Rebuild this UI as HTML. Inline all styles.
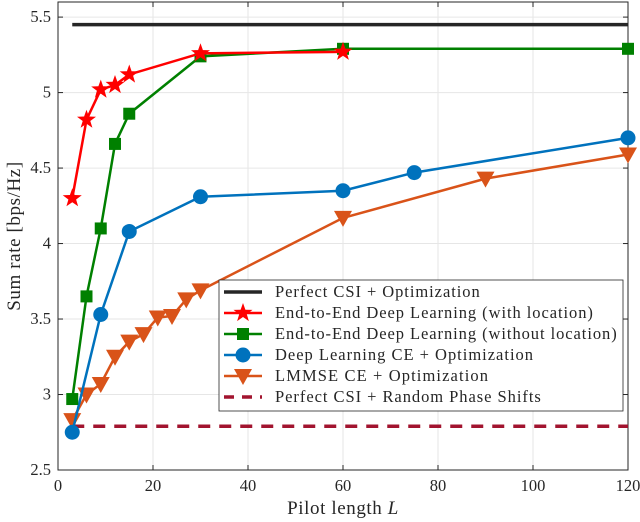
<!DOCTYPE html>
<html><head><meta charset="utf-8"><style>
body{margin:0;background:#fff;}
svg{display:block;font-family:"Liberation Serif",serif;}
</style></head><body>
<svg id="chart" width="640" height="522" xmlns="http://www.w3.org/2000/svg"></svg>
<script>
const xTicks=[0,20,40,60,80,100,120];
const yTicks=[2.5,3,3.5,4,4.5,5,5.5];
const perfectX=[3,120];const perfectY=[5.45,5.45];
const redX=[3,6,9,12,15,30,60];const redY=[4.3,4.82,5.02,5.05,5.12,5.26,5.27];
const greenX=[3,6,9,12,15,30,60,120];const greenY=[2.97,3.65,4.1,4.66,4.86,5.24,5.29,5.29];
const blueX=[3,9,15,30,60,75,120];const blueY=[2.75,3.53,4.08,4.31,4.35,4.47,4.70];
const orangeX=[3,6,9,12,15,18,21,24,27,30,60,90,120];const orangeY=[2.83,3.0,3.07,3.25,3.35,3.4,3.51,3.52,3.63,3.69,4.17,4.43,4.59];
const randX=[3,120];const randY=[2.79,2.79];
const legendLabels=["Perfect CSI + Optimization","End-to-End Deep Learning (with location)","End-to-End Deep Learning (without location)","Deep Learning CE + Optimization","LMMSE CE + Optimization","Perfect CSI + Random Phase Shifts"];

const L=58,R=628,T=2,B=470,xmin=0,xmax=120,ymin=2.5,ymax=5.6;
const sx=v=>L+(v-xmin)/(xmax-xmin)*(R-L);
const sy=v=>B-(v-ymin)/(ymax-ymin)*(B-T);
const svg=document.getElementById('chart');const NS="http://www.w3.org/2000/svg";
function mk(tag,attrs,parent){const e=document.createElementNS(NS,tag);for(const k in attrs)e.setAttribute(k,attrs[k]);(parent||svg).appendChild(e);return e;}
xTicks.forEach(t=>{const l=mk('line',{x1:sx(t),x2:sx(t),y1:T,y2:B,stroke:'#e6e6e6'});

});
yTicks.forEach(t=>{const l=mk('line',{x1:L,x2:R,y1:sy(t),y2:sy(t),stroke:'#e6e6e6'});

});
const box=mk('rect',{x:L,y:T,width:R-L,height:B-T,fill:'none',stroke:'#262626','stroke-width':1});


xTicks.forEach(t=>{mk('line',{x1:sx(t),x2:sx(t),y1:B,y2:B-5,stroke:'#262626'});mk('line',{x1:sx(t),x2:sx(t),y1:T,y2:T+5,stroke:'#262626'});
const tx=mk('text',{x:sx(t),y:B+21,'text-anchor':'middle','font-size':16.5,fill:'#262626'});tx.textContent=t;

});
yTicks.forEach(t=>{mk('line',{x1:L,x2:L+5,y1:sy(t),y2:sy(t),stroke:'#262626'});mk('line',{x1:R,x2:R-5,y1:sy(t),y2:sy(t),stroke:'#262626'});
const tx=mk('text',{x:L-7,y:sy(t)+5,'text-anchor':'end','font-size':16.5,fill:'#262626'});tx.textContent=t;

});
const xt=mk('text',{x:(L+R)/2,y:514,'text-anchor':'middle','font-size':19,fill:'#262626','letter-spacing':'0.6'});xt.innerHTML='Pilot length <tspan font-style="italic">L</tspan>';


const yt=mk('text',{x:0,y:0,'text-anchor':'middle','font-size':19,fill:'#262626','letter-spacing':'0.6',transform:`translate(20,${(T+B)/2}) rotate(-90)`});yt.textContent='Sum rate [bps/Hz]';



function marker(g,type,x,y,color){
 if(type==='star'){let p=[];for(let i=0;i<10;i++){const r=i%2?4:10,a=-Math.PI/2+i*Math.PI/5;p.push((x+r*Math.cos(a)).toFixed(1)+','+(y+r*Math.sin(a)).toFixed(1));}
  return mk('polygon',{points:p.join(' '),fill:color},g);}
 if(type==='square')return mk('rect',{x:x-6,y:y-6,width:12,height:12,fill:color},g);
 if(type==='circle')return mk('circle',{cx:x,cy:y,r:7.5,fill:color},g);
 if(type==='tri')return mk('polygon',{points:`${x-9},${y-7} ${x+9},${y-7} ${x},${y+9}`,fill:color},g);
}
const series=[
 {name:'perfect-csi-series',X:perfectX,Y:perfectY,c:'#262626',m:null,w:3.5},
 {name:'e2e-with-location-series',X:redX,Y:redY,c:'#ff0000',m:'star',w:2.5},
 {name:'e2e-without-location-series',X:greenX,Y:greenY,c:'#008000',m:'square',w:2.5},
 {name:'dl-ce-series',X:blueX,Y:blueY,c:'#0072bd',m:'circle',w:2.5},
 {name:'lmmse-series',X:orangeX,Y:orangeY,c:'#d95319',m:'tri',w:2.5},
 {name:'random-phase-series',X:randX,Y:randY,c:'#a2142f',m:null,w:3.5,dash:'12 9'}
];
const order=[0,5,4,3,2,1];
order.forEach(i=>{const s=series[i];const g=mk('g',{});


 const pl=mk('polyline',{points:s.X.map((x,j)=>sx(x)+','+sy(s.Y[j])).join(' '),fill:'none',stroke:s.c,'stroke-width':s.w},g);
 if(s.dash)pl.setAttribute('stroke-dasharray',s.dash);
 if(s.m)s.X.forEach((x,j)=>{const m=marker(g,s.m,sx(x),sy(s.Y[j]),s.c);

});
});
const lg=mk('g',{});


mk('rect',{x:219,y:280,width:404,height:131,fill:'#fff',stroke:'#262626','stroke-width':0.8},lg);
legendLabels.forEach((lab,i)=>{const s=series[i];const y=292+i*21;const e=mk('g',{},lg);


 const l=mk('line',{x1:224,x2:262,y1:y,y2:y,stroke:s.c,'stroke-width':s.w},e);
 if(s.dash)l.setAttribute('stroke-dasharray','10 8');
 if(s.m)marker(e,s.m,243,y,s.c);
 const t=mk('text',{x:275,y:y+5,'font-size':16.5,fill:'#262626'},e);t.textContent=lab;
 const w=t.getComputedTextLength();
 t.setAttribute('textLength',(w*1.13).toFixed(1));
 t.setAttribute('lengthAdjust','spacing');});
</script>
</body></html>
